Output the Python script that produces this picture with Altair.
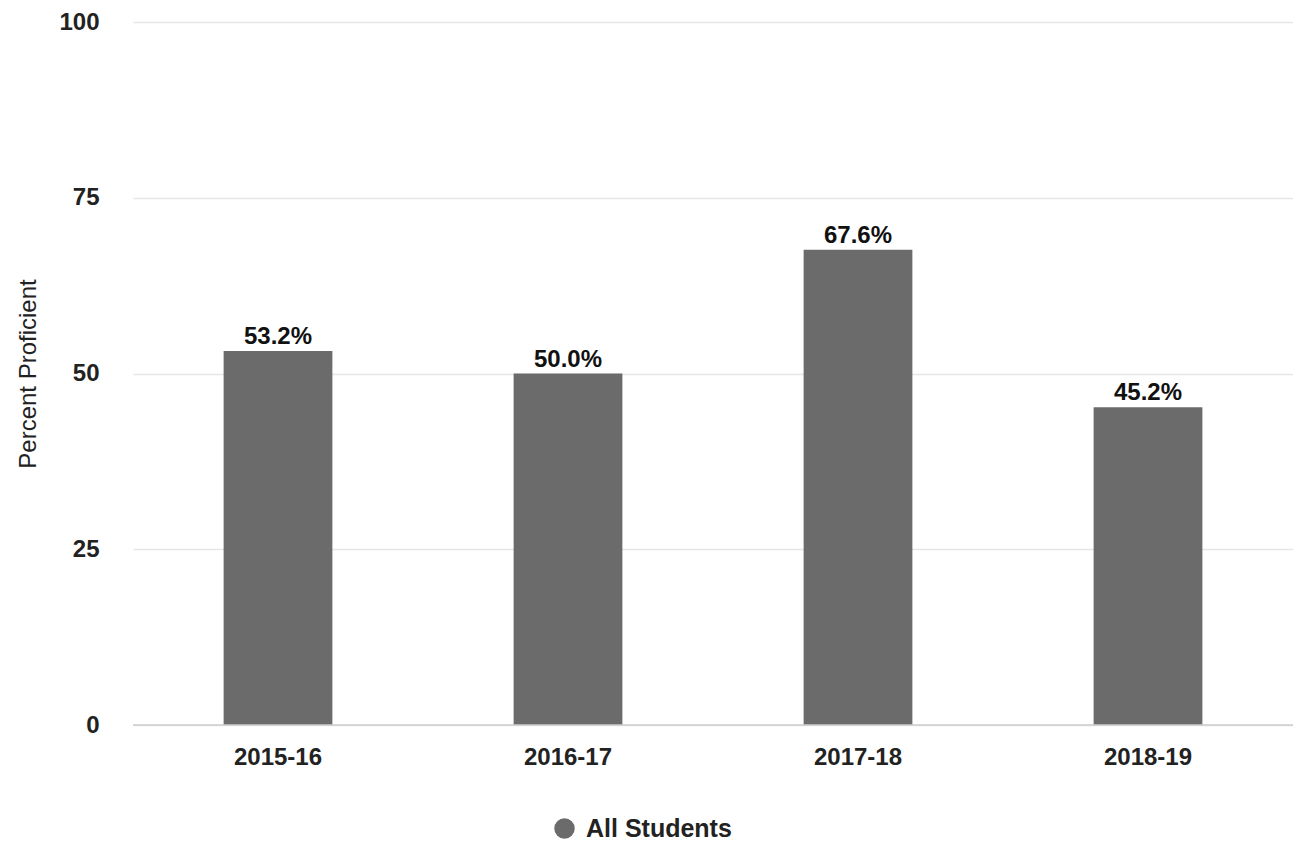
import altair as alt
import pandas as pd

years = ["2015-16", "2016-17", "2017-18", "2018-19"]
values = [53.2, 50.0, 67.6, 45.2]
labels = ["53.2%", "50.0%", "67.6%", "45.2%"]
series = ["All Students"] * 4

df = pd.DataFrame({"year": years, "value": values, "label": labels, "series": series})

FONT = "Liberation Sans"

base = alt.Chart(df)

bars = base.mark_bar(color="#6b6b6b").encode(
    x=alt.X("year:N", sort=years,
            scale=alt.Scale(paddingInner=0.625, paddingOuter=0.3125),
            axis=alt.Axis(title=None, labelAngle=0, labelFont=FONT, labelFontSize=24,
                          labelFontWeight="bold", labelColor="#222222", labelPadding=20,
                          ticks=False, domain=False, grid=False)),
    y=alt.Y("value:Q", scale=alt.Scale(domain=[0, 100], nice=False),
            axis=alt.Axis(title="Percent Proficient", values=[0, 25, 50, 75, 100],
                          titleFont=FONT, titleFontSize=24, titleFontWeight="normal",
                          titleColor="#222222", titlePadding=18,
                          labelFont=FONT, labelFontSize=24, labelFontWeight="bold",
                          labelColor="#222222", labelPadding=34,
                          ticks=False, domain=False, grid=True,
                          gridColor="#e6e6e6", gridWidth=1.5)),
    color=alt.Color("series:N", scale=alt.Scale(range=["#6b6b6b"]),
                    legend=alt.Legend(title=None, orient="none", legendX=419, legendY=794,
                                      symbolType="circle", symbolSize=420, labelOffset=9,
                                      labelFont=FONT, labelFontSize=25, labelFontWeight="bold",
                                      labelColor="#222222", padding=0)),
)

text = base.mark_text(baseline="bottom", dy=-2, font=FONT, fontSize=24,
                      fontWeight="bold", color="#111111").encode(
    x=alt.X("year:N", sort=years),
    y=alt.Y("value:Q"),
    text="label:N",
)

zero = alt.Chart(pd.DataFrame({"z": [0]})).mark_rule(color="#cccccc", strokeWidth=1.5).encode(
    y=alt.Y("z:Q")
)

chart = alt.layer(bars, zero, text).properties(
    width=1160, height=703,
    autosize=alt.AutoSizeParams(type="none"),
    padding={"left": 125, "top": 14, "right": 0, "bottom": 116},
).configure_view(stroke=None)

chart.save("out.html", embed_options={"renderer": "svg", "actions": False})
